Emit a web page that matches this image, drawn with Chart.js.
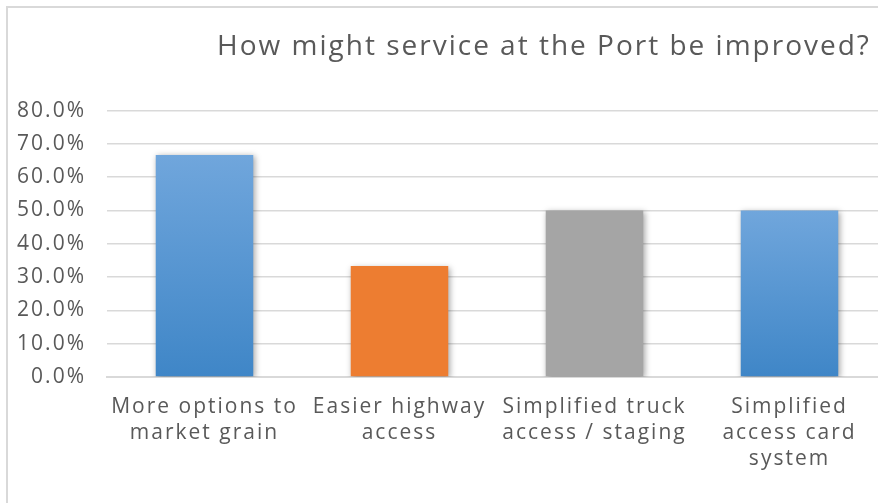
<!DOCTYPE html>
<html>
<head>
<meta charset="utf-8">
<script src="https://cdn.jsdelivr.net/npm/chart.js@4.4.0/dist/chart.umd.min.js"></script>
<style>
  html, body { margin: 0; padding: 0; background: #fff; overflow: hidden; width: 878px; height: 503px; }
  #frame { position: absolute; left: 6px; top: 6px; width: 1300px; height: 800px; border: 2px solid #d9d9d9; box-sizing: border-box; }
  #wrap { position: absolute; left: 8px; top: 8px; width: 1072px; height: 500px; }
</style>
</head>
<body>
<div id="frame"></div>
<div id="wrap"><canvas id="chart" width="1072" height="500"></canvas></div>
<script>
// survey answers, share of respondents (%)
const categories = [
    ["More options to", "market grain"],
    ["Easier highway", "access"],
    ["Simplified truck", "access / staging"],
    ["Simplified", "access card", "system"],
];
const shares = [66.7, 33.3, 50.0, 50.0];
const yTicks = [0, 10, 20, 30, 40, 50, 60, 70, 80];

const FONT = "'Open Sans', sans-serif";
const TEXT = "#595959";
const GRID = "#d9d9d9";

function barFill(ctx) {
    const i = ctx.dataIndex;
    if (i === 1) return "#ed7d31";
    if (i === 2) return "#a5a5a5";
    const chart = ctx.chart;
    const y = chart.scales.y;
    if (!y || !chart.chartArea) return "#5b9bd5";
    const top = y.getPixelForValue(shares[i]);
    const bottom = y.getPixelForValue(0);
    const g = chart.ctx.createLinearGradient(0, top, 0, bottom);
    g.addColorStop(0, "#70a6dc");
    g.addColorStop(1, "#3f86c7");
    return g;
}

// soft drop shadow under the bars, like the office chart
const barShadow = {
    id: "barShadow",
    beforeDatasetDraw(chart) {
        const c = chart.ctx;
        c.save();
        c.shadowColor = "rgba(0,0,0,0.35)";
        c.shadowBlur = 6;
        c.shadowOffsetX = 1.5;
        c.shadowOffsetY = 1.5;
    },
    afterDatasetDraw(chart) {
        chart.ctx.restore();
    },
};

// the original face is wider than Open Sans, so open the letters up a bit
const wideText = {
    id: "wideText",
    beforeLayout(chart) { chart.ctx.letterSpacing = "2px"; },
    beforeDraw(chart) { chart.ctx.letterSpacing = "2px"; },
};

new Chart(document.getElementById("chart"), {
    type: "bar",
    data: {
        labels: categories,
        datasets: [{
            data: shares,
            backgroundColor: barFill,
            borderWidth: 0,
            categoryPercentage: 1.0,
            barPercentage: 0.5,
        }],
    },
    plugins: [barShadow, wideText],
    options: {
        responsive: false,
        animation: false,
        devicePixelRatio: 1,
        plugins: {
            legend: { display: false },
            tooltip: { enabled: false },
            title: {
                display: true,
                text: "How might service at the Port be improved?",
                color: TEXT,
                font: { family: FONT, size: 28, weight: "normal" },
                padding: { top: 22, bottom: 47 },
            },
        },
        scales: {
            x: {
                grid: { display: false, drawTicks: false },
                border: { display: true, color: GRID, width: 2 },
                ticks: {
                    color: TEXT,
                    font: { family: FONT, size: 21, lineHeight: 1.24 },
                    padding: 17,
                    maxRotation: 0,
                    autoSkip: false,
                },
                afterFit(axis) { axis.height = 131; },
            },
            y: {
                min: 0,
                max: 80,
                afterBuildTicks(axis) { axis.ticks = yTicks.map(v => ({ value: v })); },
                grid: { color: GRID, lineWidth: 1.5, drawTicks: false },
                border: { display: false },
                ticks: {
                    color: TEXT,
                    font: { family: FONT, size: 21 },
                    padding: 21,
                    callback: v => v.toFixed(1) + "%",
                },
                afterFit(axis) { axis.width = 99; },
            },
            // empty right-hand axis: reserves the cropped-off part of the chart
            spare: {
                position: "right",
                grid: { display: false, drawTicks: false },
                border: { display: false },
                ticks: { display: false },
                afterFit(axis) { axis.width = 193; },
            },
        },
    },
});
</script>
</body>
</html>
